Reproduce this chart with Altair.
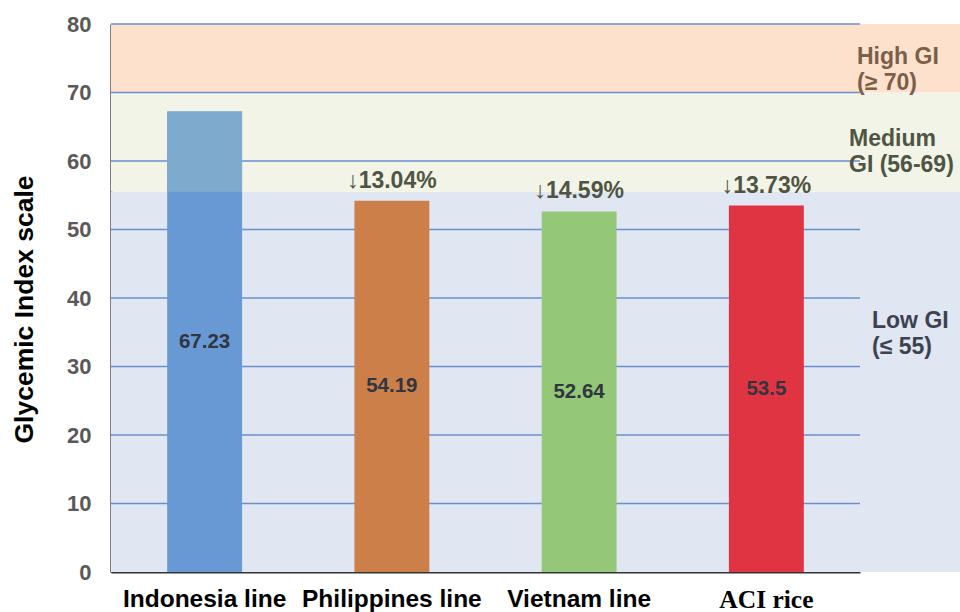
import altair as alt
import pandas as pd

# Rice lines and their measured glycemic index
lines = ["Indonesia line", "Philippines line", "Vietnam line", "ACI rice"]
gi_values = [67.23, 54.19, 52.64, 53.5]
bar_colors = ["#6899d5", "#cc7f48", "#94c878", "#e03442"]
reference_line = "Indonesia line"

# GI category bands
band_names = ["Low", "Medium", "High"]
band_low = [0, 55.5, 70]
band_high = [55.5, 70, 80]
band_colors = ["#e0e6f2", "#f1f4e6", "#fde1cd"]
band_text = ["Low GI\n(≤ 55)", "Medium\nGI (56-69)", "High GI\n(≥ 70)"]
band_text_pos = [36.6, 63.2, 75.2]

y_ticks = [0, 10, 20, 30, 40, 50, 60, 70, 80]

FONT = "Liberation Sans"
W, H = 749, 548

ref_value = gi_values[lines.index(reference_line)]
bars = pd.DataFrame({"line": lines, "gi": gi_values, "color": bar_colors})
bars["half"] = bars["gi"] / 2
bars["label"] = bars["gi"].map(lambda v: f"{v:g}")
bars["drop"] = bars["gi"].map(lambda v: f"↓{ref_value - v:.2f}%")
drops = bars[bars["line"] != reference_line]

bands = pd.DataFrame({"name": band_names, "lo": band_low, "hi": band_high,
                      "color": band_colors, "text": band_text, "pos": band_text_pos})
upper = bars[bars["gi"] > band_high[0]].assign(base=band_high[0], color="#7eabcd")
grid = pd.DataFrame({"tick": y_ticks[1:]})

y_scale = alt.Scale(domain=[0, 80], nice=False, zero=True)
y_axis = alt.Axis(
    title="Glycemic Index scale", values=y_ticks, grid=False, ticks=False,
    domainColor="#000000", domainWidth=2,
    labelFont=FONT, labelFontSize=22, labelFontWeight="bold", labelColor="#595959",
    labelPadding=20,
    titleFont=FONT, titleFontSize=26.5, titleFontWeight="bold", titleColor="#000000",
    titleX=-73, titleY=285,
)
x_scale = alt.Scale(domain=lines, paddingInner=0.6, paddingOuter=0.3)
x_axis = alt.Axis(
    title=None, ticks=False, labelAngle=0, domainColor="#333333", domainWidth=2,
    labelFont={"condition": {"test": "datum.value == 'ACI rice'", "value": "Liberation Serif"},
               "value": FONT},
    labelFontSize={"condition": {"test": "datum.value == 'ACI rice'", "value": 25.5},
                   "value": 24.5},
    labelFontWeight="bold", labelColor="#000000", labelPadding=15,
)


def Y(field, **kw):
    return alt.Y(field, type="quantitative", scale=y_scale, axis=y_axis, **kw)


X = alt.X("line:N", scale=x_scale, axis=x_axis, sort=lines)

band_layer = alt.Chart(bands).mark_rect().encode(
    x=alt.value(0), x2=alt.value(W + 100),
    y=Y("lo"), y2="hi",
    color=alt.Color("color:N", scale=None),
)

grid_layer = alt.Chart(grid).mark_rule(color="#6a8fd0", strokeWidth=1.6).encode(
    x=alt.value(0), x2=alt.value(W), y=Y("tick"),
)

bar_layer = alt.Chart(bars).mark_bar().encode(
    x=X, y=Y("gi"), color=alt.Color("color:N", scale=None),
)

upper_layer = alt.Chart(upper).mark_bar().encode(
    x=X, y=Y("base"), y2="gi", color=alt.Color("color:N", scale=None),
)

value_text = alt.Chart(bars).mark_text(
    font=FONT, fontSize=20.5, fontWeight="bold", color="#2f3640", baseline="middle"
).encode(x=X, y=Y("half"), text="label:N")

drop_text = alt.Chart(drops).mark_text(
    font=FONT, fontSize=23, fontWeight="bold", color="#4f5444",
    baseline="alphabetic", dy=-13,
).encode(x=X, y=Y("gi"), text="drop:N")

band_label_colors = {"Low": "#3c4250", "Medium": "#4f5444", "High": "#7a6048"}
band_label_x = {"Low": 761, "Medium": 738, "High": 746}
label_layers = []
for name in band_names:
    label_layers.append(
        alt.Chart(bands[bands["name"] == name]).mark_text(
            font=FONT, fontSize=23, fontWeight="bold", align="left",
            baseline="middle", lineBreak="\n", lineHeight=26,
            color=band_label_colors[name],
        ).encode(x=alt.value(band_label_x[name]), y=Y("pos"), text="text:N")
    )

chart = alt.layer(
    band_layer, grid_layer, bar_layer, upper_layer, value_text, drop_text, *label_layers
).properties(
    width=W, height=H,
    autosize=alt.AutoSizeParams(type="none"),
    padding={"left": 111, "top": 24, "right": 100, "bottom": 40},
    background="#ffffff",
).configure_view(stroke=None)

chart.save("out.html", embed_options={"renderer": "svg", "actions": False})
